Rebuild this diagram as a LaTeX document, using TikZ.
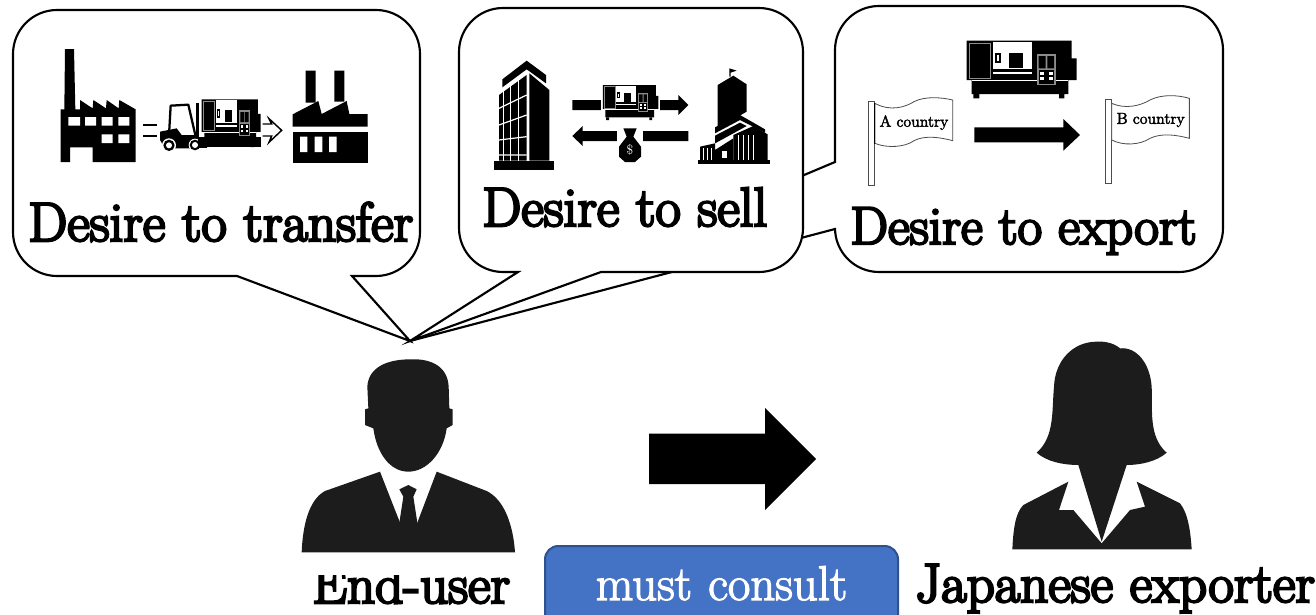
\documentclass[tikz,border=0pt]{standalone}
\usepackage{fontspec}
\setmainfont{Latin Modern Roman}
\newfontfamily\heavyfont[FakeBold=4.5]{Latin Modern Roman}
\newfontfamily\midfont[FakeBold=2.5]{Latin Modern Roman}
\definecolor{silh}{HTML}{1C1C1C}
\definecolor{btnfill}{HTML}{4472C4}
\definecolor{btnline}{HTML}{2F528F}
\tikzset{
  bubble/.style={draw=black,fill=white,line width=1.6pt,line join=miter},
  bigtext/.style={anchor=base west,inner sep=0pt,font=\heavyfont\fontsize{41.4}{42}\selectfont},
  flagtext/.style={inner sep=0pt,font=\midfont\fontsize{11.9}{12}\selectfont},
  flagline/.style={draw=black!70,fill=white,line width=.6pt},
  zoomunits/.style={x=.25pt,y=-.25pt},
}
\newcommand{\lathe}{%
  \fill[black] (380,62) -- (695,62) -- (695,115) -- (710,115) -- (710,180) -- (685,180) -- (685,222) -- (395,222) -- (395,180) -- (380,180) -- cycle;
  \fill[black] (400,222) rectangle (418,235) (657,222) rectangle (673,235);
  \draw[black!45,line width=.4pt] (387,69) rectangle (452,175);
  \fill[white] (458,65) rectangle (577,148);
  \fill[white] (460,155) rectangle (577,162);
  \fill[black] (508,100) rectangle (548,145);
  \fill[black] (465,98) rectangle (483,128);
  \fill[white] (472,104) rectangle (476,122);
  \draw[white,line width=.5pt] (395,181) -- (685,181);
  \fill[black!45] (590,102) rectangle (648,196);
  \fill[black] (596,108) rectangle (617,145) (622,108) rectangle (642,145);
  \fill[black] (596,150) rectangle (642,191);
  \foreach \px in {600,626} {\foreach \py in {156,172} {\fill[white] (\px,\py) rectangle +(12,9);}}
}
\begin{document}
\begin{tikzpicture}[x=.75pt,y=-.75pt]
\clip (0,0) rectangle (1316,614);
% ---------- callouts
\coordinate (tip) at (410,341);
\draw[bubble] (835,229) -- (tip) -- (835,162) -- (835,50) arc[start angle=180,end angle=270,radius=44] -- (1179,6) arc[start angle=-90,end angle=0,radius=44] -- (1223,228) arc[start angle=0,end angle=90,radius=44] -- (879,272) arc[start angle=90,end angle=180,radius=44] -- cycle;
\draw[bubble] (601,272) -- (759,272) arc[start angle=90,end angle=0,radius=44] -- (803,52) arc[start angle=0,end angle=-90,radius=44] -- (503,8) arc[start angle=-90,end angle=-180,radius=44] -- (459,228) arc[start angle=180,end angle=90,radius=44] -- (518,272) -- (tip) -- cycle;
\draw[bubble] (352,276) -- (376,276) arc[start angle=90,end angle=0,radius=44] -- (420,54) arc[start angle=0,end angle=-90,radius=44] -- (57,10) arc[start angle=-90,end angle=-180,radius=44] -- (13,232) arc[start angle=180,end angle=90,radius=44] -- (237,276) -- (tip) -- cycle;
% ---------- callout titles
\node[bigtext] (t1) at (28,241) {Desire to transfer};
\node[bigtext] (t2) at (482,226) {Desire to sell};
\node[bigtext,font=\heavyfont\fontsize{40}{42}\selectfont] (t3) at (850,244) {Desire to export};
% ---------- panel 1 icons
\begin{scope}[shift={(20,20)},zoomunits]
  \fill[black] (135,87) -- (162,87) -- (166,268) -- (180,268) -- (180,240) -- (218,265) -- (220,240) -- (258,265) -- (260,240) -- (296,265) -- (298,240) -- (347,268) -- (347,426) -- (218,426) -- (218,382) -- (150,382) -- (150,426) -- (122,426) -- (122,268) -- (133,268) -- cycle;
  \fill[white] (145,291) rectangle (180,317) (195,291) rectangle (228,317) (245,291) rectangle (278,317) (295,291) rectangle (328,317) (245,343) rectangle (278,369) (295,343) rectangle (328,369);
  \draw[black,line width=1.1pt] (370,315) -- (412,315) (370,348) -- (412,348);
  \draw[black,line width=1.1pt] (728,312) -- (755,312) -- (747,296) -- (785,331) -- (747,367) -- (755,348) -- (728,348);
  \draw[black,line width=1.7pt,line join=round] (447,345) -- (452,257) -- (505,254) -- (526,345);
  \fill[black] (420,335) -- (470,325) -- (485,345) -- (530,345) -- (540,385) -- (435,385) -- (420,360) -- cycle;
  \fill[black] (528,250) rectangle (538,380);
  \fill[black] (540,352) rectangle (722,382);
  \fill[white] (447,376) circle[radius=21];
  \fill[black] (447,376) circle[radius=17];
  \fill[white] (447,376) circle[radius=9];
  \fill[white] (525,375) circle[radius=19];
  \fill[black] (525,375) circle[radius=16];
  \fill[white] (525,375) circle[radius=9];
  \fill[black] (533,352) rectangle (560,384);
  \fill[black] (857,152) rectangle (887,248) (943,152) rectangle (973,245);
  \fill[black] (818,320) -- (818,283) -- (895,243) -- (905,282) -- (980,243) -- (988,282) -- (1043,282) -- (1043,320) -- cycle;
  \fill[black] (818,336) rectangle (1043,428);
  \fill[white] (840,350) rectangle (862,396) (884,350) rectangle (907,396) (927,350) rectangle (950,396);
\end{scope}
\begin{scope}[shift={(133.8,82.2)},x=.134pt,y=-.207pt]
  \lathe
\end{scope}
% ---------- panel 2 icons
\begin{scope}[shift={(470,40)},zoomunits]
  \fill[black] (73,362) rectangle (252,390);
  \fill[black] (97,118) -- (170,62) -- (228,105) -- (228,130) -- (170,88) -- (97,142) -- cycle;
  \fill[black] (178,100) -- (238,150) -- (238,362) -- (178,362) -- cycle;
  \fill[black] (87,165) -- (170,105) -- (170,362) -- (87,362) -- cycle;
  \draw[white,line width=.9pt] (100,150) -- (100,362) (122,135) -- (122,362) (146,120) -- (146,362);
  \draw[white,line width=.9pt] (87,205) -- (170,165) (87,255) -- (170,225) (87,300) -- (170,290) (87,345) -- (170,345);
  \fill[black] (307,180) -- (625,180) -- (625,165) -- (655,195) -- (625,225) -- (625,210) -- (307,210) -- cycle;
  \fill[black] (307,288) -- (338,258) -- (338,273) -- (655,273) -- (655,303) -- (338,303) -- (338,318) -- cycle;
  \fill[white] (392,128) rectangle (570,245);
  \fill[white] (440,255) rectangle (518,375);
  \fill[black] (460,265) -- (500,265) -- (490,290) -- (513,320) -- (513,350) -- (495,366) -- (465,366) -- (447,350) -- (447,320) -- (470,290) -- cycle;
  \node[inner sep=0pt,text=white,font=\fontsize{10}{10}\selectfont] (dollar) at (480,330) {\$};
  \fill[black] (778,85) -- (800,92) -- (782,98) -- (782,110) -- (778,110) -- cycle;
  \fill[black] (743,135) -- (790,107) -- (830,133) -- (830,215) -- (790,238) -- (743,262) -- cycle;
  \fill[black] (735,262) -- (810,225) -- (885,268) -- (885,278) -- (810,240) -- (735,280) -- cycle;
  \fill[black] (735,287) -- (810,248) -- (830,258) -- (790,280) -- (735,310) -- cycle;
  \fill[black] (790,285) -- (850,258) -- (893,283) -- (893,360) -- (790,360) -- cycle;
  \fill[black] (690,320) -- (735,310) -- (735,330) -- (790,295) -- (790,360) -- (690,360) -- cycle;
  \fill[black] (685,360) rectangle (900,372);
  \fill[white] (757,332) rectangle (772,355);
  \draw[white,line width=.6pt] (805,285) -- (805,360) (820,285) -- (820,360) (835,285) -- (835,360) (850,285) -- (850,360) (700,325) -- (700,360) (712,325) -- (712,360) (725,325) -- (725,360);
\end{scope}
\begin{scope}[shift={(538.7,72.5)},x=.1264pt,y=-.1517pt]
  \lathe
\end{scope}
% ---------- panel 3 icons
\begin{scope}[shift={(840,20)},zoomunits]
  \lathe
  \path[flagline] (84,245) rectangle (104,497);
  \path[flagline] (105,250) .. controls (150,275) and (195,262) .. (222,245) .. controls (255,228) and (305,232) .. (338,240) -- (338,362) .. controls (300,352) and (255,345) .. (222,362) .. controls (195,382) and (140,385) .. (105,370) -- cycle;
  \draw[black,line width=.7pt] (104,248) -- (104,372);
  \node[flagtext] (fa) at (222,308) {A country};
  \fill[black] (403,322) -- (670,322) -- (670,297) -- (720,345) -- (670,392) -- (670,367) -- (403,367) -- cycle;
  \path[flagline] (795,237) rectangle (815,490);
  \path[flagline] (815,250) .. controls (855,268) and (900,258) .. (930,240) .. controls (965,222) and (1015,225) .. (1048,235) -- (1048,355) .. controls (1010,345) and (965,338) .. (930,355) .. controls (900,375) and (850,378) .. (815,360) -- cycle;
  \node[flagtext] (fb) at (932,300) {B country};
\end{scope}
% ---------- bottom labels
\node[bigtext] (enduser) at (312,603) {End-user};
\node[bigtext] (jp) at (915,602) {Japanese exporter};
\fill[white] (295,556) rectangle (530,574.5);
% ---------- end-user figure
\begin{scope}[shift={(280,330)},zoomunits]
  \fill[silh] (390,88) .. controls (455,85) and (503,110) .. (506,170) -- (508,235) -- (518,238) -- (518,285) -- (500,295) .. controls (490,370) and (440,425) .. (385,425) .. controls (330,425) and (290,370) .. (280,295) -- (255,285) -- (255,238) -- (265,235) -- (262,170) .. controls (265,110) and (325,88) .. (390,88) -- cycle;
  \fill[silh] (65,667) .. controls (68,590) and (85,510) .. (135,483) -- (300,425) -- (360,578) -- (412,578) -- (470,425) -- (620,483) .. controls (675,510) and (700,590) .. (705,667) -- cycle;
  \fill[silh] (358,478) -- (385,465) -- (410,478) -- (400,500) -- (412,578) -- (385,625) -- (358,578) -- (370,500) -- cycle;
\end{scope}
% ---------- exporter figure
\begin{scope}[shift={(980,330)},zoomunits]
  \fill[silh] (350,35) .. controls (380,33) and (405,42) .. (420,55) .. controls (470,50) and (510,100) .. (515,170) .. controls (518,240) and (505,320) .. (560,368) .. controls (530,395) and (480,405) .. (440,405) -- (365,635) -- (295,405) .. controls (250,405) and (200,395) .. (170,368) .. controls (225,320) and (215,240) .. (222,170) .. controls (225,90) and (280,35) .. (350,35) -- cycle;
  \fill[silh] (97,658) .. controls (100,600) and (105,550) .. (130,525) -- (265,455) -- (237,540) -- (280,540) -- (365,640) -- (450,540) -- (495,530) -- (470,455) -- (600,520) .. controls (625,550) and (632,610) .. (635,658) -- cycle;
\end{scope}
% ---------- arrow and button
\fill[black] (649,433.5) -- (765,433.5) -- (765,408) -- (816,459) -- (765,510) -- (765,484) -- (649,484) -- cycle;
\node[anchor=base,draw=btnline,fill=btnfill,line width=1.5pt,rounded corners=10pt,inner sep=0pt,text=white,text width=264.75pt,align=center,text height=40.5pt,text depth=25pt,font=\midfont\fontsize{36.6}{37}\selectfont] (consult) at (721.5,600) {must consult};
\end{tikzpicture}
\end{document}
